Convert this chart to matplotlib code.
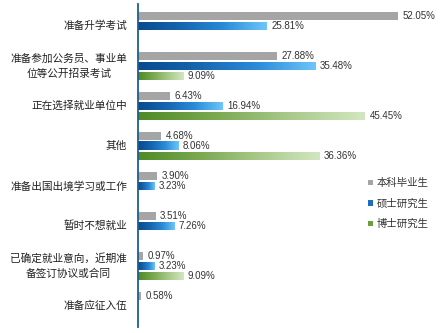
import numpy as np
import matplotlib
matplotlib.use("Agg")
import matplotlib.pyplot as plt
from matplotlib.colors import LinearSegmentedColormap
from matplotlib.patches import Patch

plt.rcParams['font.family'] = ['Noto Sans CJK SC', 'DejaVu Sans']

categories = ["准备升学考试", "准备参加公务员、事业单\n位等公开招录考试", "正在选择就业单位中", "其他",
              "准备出国出境学习或工作", "暂时不想就业", "已确定就业意向，近期准\n备签订协议或合同", "准备应征入伍"]
series_names = ["本科毕业生", "硕士研究生", "博士研究生"]
bachelor = [52.05, 27.88, 6.43, 4.68, 3.90, 3.51, 0.97, 0.58]
master = [25.81, 35.48, 16.94, 8.06, 3.23, 7.26, 3.23, None]
doctor = [None, 9.09, 45.45, 36.36, None, None, 9.09, None]

W, H = 447, 333
fig = plt.figure(figsize=(W / 100, H / 100), dpi=100)
ax = fig.add_axes([138 / W, 1 - 327 / H, 1 - 138 / W, 323 / H])
ax.set_xlim(0, 61.9)
ax.set_ylim(7.525, -0.55)

blue_cmap = LinearSegmentedColormap.from_list("b", ["#0a4a8e", "#1565b0", "#2a8bd8", "#6cc6f8"])
green_cmap = LinearSegmentedColormap.from_list("g", ["#4e8a26", "#79a850", "#a9c98a", "#d2e7c0"])
grad = np.linspace(0, 1, 256).reshape(1, -1)

bh = 0.2
offsets = [-0.25, 0.0, 0.25]
series = [bachelor, master, doctor]
cmaps = [None, blue_cmap, green_cmap]

for s_idx, (vals, cmap) in enumerate(zip(series, cmaps)):
    for i, v in enumerate(vals):
        if v is None:
            continue
        y = i + offsets[s_idx]
        if cmap is None:
            ax.barh(y, v, height=bh, color="#a5a5a5", edgecolor="none", zorder=2)
        else:
            ax.imshow(grad, cmap=cmap, aspect="auto",
                      extent=[0, v, y + bh / 2, y - bh / 2], zorder=2, interpolation="bilinear")
        ax.text(v + 0.9, y, f"{v:.2f}%", va="center", ha="left", fontsize=7,
                family=["Liberation Sans", "DejaVu Sans"], color="#333333", zorder=3)

ax.set_xlim(0, 61.9)
ax.set_ylim(7.525, -0.55)

for i, c in enumerate(categories):
    ax.text(-2.2, i, c, ha="right", va="center", fontsize=7.7, color="#222222",
            multialignment="center", linespacing=1.6)

for sp in ["top", "right", "bottom"]:
    ax.spines[sp].set_visible(False)
ax.spines["left"].set_color("#1d5f8e")
ax.spines["left"].set_linewidth(1.3)
ax.set_xticks([])
ax.set_yticks([])
ax.patch.set_alpha(0)

handles = [Patch(facecolor="#a5a5a5"), Patch(facecolor="#1a6fbf"), Patch(facecolor="#6a9f3e")]
fig.legend(handles, series_names, loc="upper left", bbox_to_anchor=(368 / W, 1 - 178 / H),
           frameon=False, fontsize=7.5, handlelength=0.45, handleheight=0.45,
           handletextpad=0.35, labelspacing=1.0, borderpad=0, borderaxespad=0,
           labelcolor="#333333")

fig.savefig("out.png", dpi=100)
